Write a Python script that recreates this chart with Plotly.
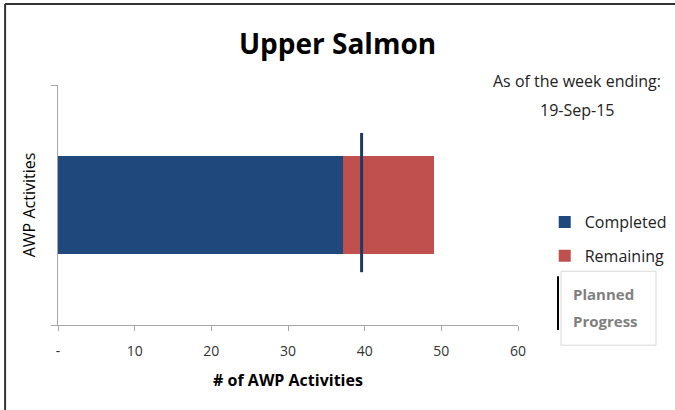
import plotly.graph_objects as go

category = ["Upper Salmon"]
completed = [37.2]
remaining = [11.8]
planned_progress = 39.6
x_ticks = [0, 10, 20, 30, 40, 50, 60]
x_tick_text = ["-", "10", "20", "30", "40", "50", "60"]

FONT = "Open Sans"

fig = go.Figure()
fig.add_trace(
    go.Bar(
        y=category, x=completed, orientation="h", name="Completed",
        marker=dict(color="#1F497D", line=dict(width=0)), legendgroup="a",
    )
)
fig.add_trace(
    go.Bar(
        y=category, x=remaining, orientation="h", name="Remaining",
        marker=dict(color="#C0504D", line=dict(width=0)), legendgroup="b",
    )
)

# planned progress marker
fig.add_shape(
    type="line", xref="x", yref="y domain",
    x0=planned_progress, x1=planned_progress, y0=0.22, y1=0.80,
    line=dict(color="#1F3864", width=3),
)

# outer chart frame (top and left edges visible)
fig.add_shape(type="line", xref="paper", yref="paper", x0=-0.115, x1=1.4, y0=1.337, y1=1.337,
              line=dict(color="#333333", width=2))
fig.add_shape(type="line", xref="paper", yref="paper", x0=-0.115, x1=-0.115, y0=-0.4, y1=1.337,
              line=dict(color="#333333", width=2))

# "Planned Progress" legend box
fig.add_shape(type="rect", xref="paper", yref="paper", x0=1.0935, x1=1.3, y0=-0.084, y1=0.224,
              line=dict(color="#D9D9D9", width=1), fillcolor="white")
fig.add_shape(type="line", xref="paper", yref="paper", x0=1.087, x1=1.087, y0=0.203, y1=-0.021,
              line=dict(color="black", width=2))
for txt, yy in [("Planned", 0.131), ("Progress", 0.017)]:
    fig.add_annotation(
        xref="paper", yref="paper", x=1.116, y=yy, xanchor="left", yanchor="middle",
        text="<b>" + txt + "</b>", showarrow=False,
        font=dict(family=FONT, size=15, color="#7F7F7F"),
    )

for txt, yy in [("As of the week ending:", 1.017), ("19-Sep-15", 0.897)]:
    fig.add_annotation(
        xref="paper", yref="paper", x=1.128, y=yy, xanchor="center", yanchor="middle",
        text=txt, showarrow=False, font=dict(family=FONT, size=16, color="#222222"),
    )

fig.update_layout(
    width=675, height=410,
    barmode="stack", bargap=0.595,
    plot_bgcolor="white", paper_bgcolor="white",
    margin=dict(l=58, r=157, t=85, b=85, autoexpand=False),
    title=dict(text="<b>Upper Salmon</b>", x=0.5, xanchor="center", y=0.892, yanchor="middle",
               font=dict(family=FONT, size=28, color="black")),
    legend=dict(x=0.807, y=0.5, xref="container", yref="container", xanchor="left", yanchor="top",
                traceorder="grouped", tracegroupgap=10,
                font=dict(family=FONT, size=16, color="#222222"),
                itemwidth=30, bgcolor="rgba(0,0,0,0)"),
    font=dict(family=FONT),
)
fig.update_xaxes(
    range=[0, 60], tickvals=x_ticks, ticktext=x_tick_text, automargin=False,
    showgrid=False, zeroline=False, showline=True, linecolor="#A6A6A6", linewidth=1,
    ticks="outside", ticklen=5, tickcolor="#A6A6A6", ticklabelstandoff=8,
    tickfont=dict(family=FONT, size=14, color="#333333"),
    title=dict(text="<b># of AWP Activities</b>", font=dict(family=FONT, size=16, color="black"), standoff=16),
)
fig.update_yaxes(
    range=[-0.5, 0.5], showticklabels=False, showgrid=False, showline=True, automargin=False,
    linecolor="#A6A6A6", linewidth=1, ticks="outside", ticklen=6, tickcolor="#A6A6A6",
    tickson="boundaries",
    title=dict(text="AWP Activities", font=dict(family=FONT, size=16, color="black"), standoff=17),
)

fig.write_html("out.html", config={"displayModeBar": False},
               post_script="document.body.style.margin='0';")
